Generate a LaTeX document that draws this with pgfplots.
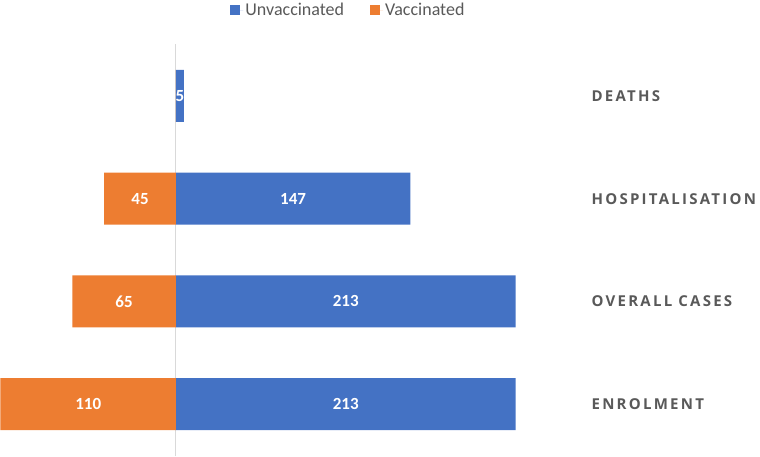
\documentclass[border=0pt]{standalone}
\usepackage{fontspec}
\setmainfont{Carlito}
\newfontfamily\catfont[LetterSpace=15]{Open Sans}
\usepackage{pgfplots}
\usepackage{pgfplotstable}
\pgfplotsset{compat=1.18}
\definecolor{unvac}{HTML}{4472C4}
\definecolor{vac}{HTML}{ED7D31}
\definecolor{txt}{HTML}{595959}
\definecolor{axisgray}{HTML}{D9D9D9}

% Counts per stage: unvaccinated and vaccinated groups
\pgfplotstableread[col sep=comma]{
pos,cat,unvac,vac
0,ENROLMENT,213,110
1,OVERALL CASES,213,65
2,HOSPITALISATION,147,45
3,DEATHS,5,0
}\stages

\begin{document}
\begin{tikzpicture}
\useasboundingbox (0,0) rectangle (760pt,456pt);
\begin{axis}[
  at={(0,0)}, anchor=south west,
  scale only axis, width=760pt, height=412pt,
  xmin=-110.3, xmax=366.2, ymin=-0.506, ymax=3.506,
  axis x line=none, axis y line=center,
  y axis line style={-, draw=axisgray, line width=1pt},
  ytick=\empty, xtick=\empty,
  bar width=0.506,
  /pgf/number format/assume math mode=true,
  legend style={at={(0.4585,1.0825)}, anchor=center, draw=none, fill=none,
    legend columns=2, font=\fontsize{18}{18}\selectfont, text=txt,
    /tikz/every even column/.append style={column sep=24pt}},
  legend image code/.code={\fill[#1] (0pt,-5pt) rectangle (10pt,5pt);
    \path (0pt,0pt) -- (13pt,0pt);},
  clip=false,
]
% bars
\addplot[xbar, bar shift=0pt, fill=unvac, draw=none]
  table[x=unvac, y=pos] {\stages};
\addplot[xbar, bar shift=0pt, fill=vac, draw=none]
  table[x expr=-\thisrow{vac}, y=pos] {\stages};
\legend{Unvaccinated, Vaccinated}

% value labels centred in the bars
\addplot[forget plot, draw=none, mark=none, nodes near coords, point meta=explicit,
  nodes near coords style={anchor=center, text=white,
    font=\bfseries\fontsize{17}{17}\selectfont}]
  table[x expr=\thisrow{unvac}/2, y=pos, meta=unvac] {\stages};
\addplot[forget plot, draw=none, mark=none, nodes near coords, point meta=explicit,
  restrict x to domain=-1000:-0.1,
  nodes near coords style={anchor=center, text=white,
    font=\bfseries\fontsize{17}{17}\selectfont}]
  table[x expr=-\thisrow{vac}/2, y=pos, meta=vac] {\stages};

% stage names on the right
\foreach \c/\p in {ENROLMENT/0, OVERALL CASES/1, HOSPITALISATION/2, DEATHS/3} {
  \edef\tmp{\noexpand\node[anchor=west, text=txt,
    font=\noexpand\catfont\noexpand\bfseries\noexpand\fontsize{15}{15}\noexpand\selectfont,
    inner sep=0pt] at (axis cs:260.5,\p) {\c};}
  \tmp
}
\end{axis}
\end{tikzpicture}
\end{document}
